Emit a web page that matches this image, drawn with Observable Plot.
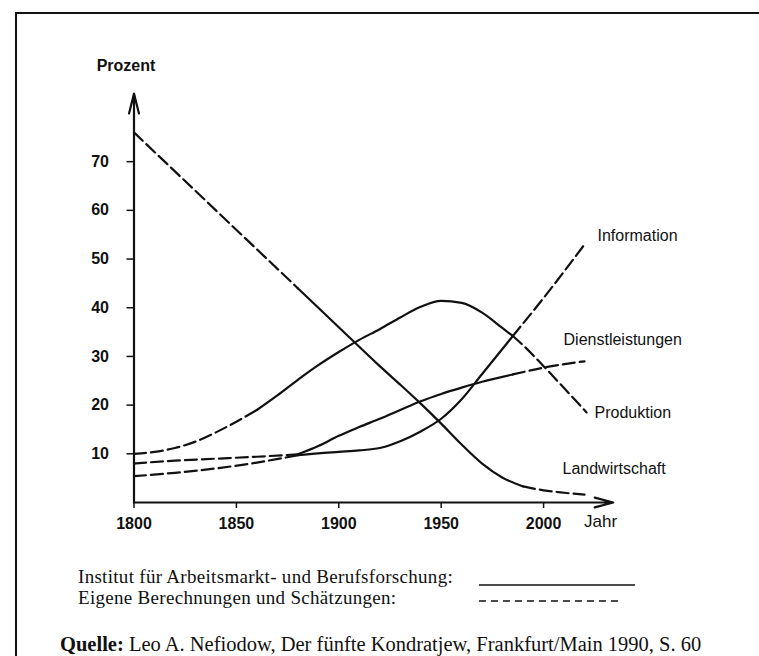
<!DOCTYPE html>
<html><head><meta charset="utf-8">
<script src="https://cdn.jsdelivr.net/npm/d3@7"></script>
<script src="https://cdn.jsdelivr.net/npm/@observablehq/plot@0.6"></script>
<style>
html,body{margin:0;padding:0;background:#fff;}
body{width:759px;height:656px;overflow:hidden;position:relative;font-family:"Liberation Sans",Arial,sans-serif;color:#111;}
#frame{position:absolute;left:15px;top:12px;width:760px;height:660px;border-top:2px solid #111;border-left:2px solid #111;}
#chart{position:absolute;left:0;top:0;}
.leg{position:absolute;font-family:"Liberation Serif","Times New Roman",serif;font-size:19px;letter-spacing:0.3px;line-height:21px;white-space:nowrap;color:#111;}
#legsvg{position:absolute;left:0;top:0;}
</style></head><body>
<div id="frame"></div>
<div id="chart"></div>
<div id="legend"></div>
<svg id="legsvg" width="759" height="656"></svg>
<div class="leg" id="cap" style="left:60px;top:633px;font-size:20.5px;letter-spacing:0;line-height:22px"></div>
<script>
// ---- data ----
const landYears = [1800,1820,1840,1860,1880,1900,1920,1930,1940,1950,1960,1970,1980,1990,2000,2010,2020];
const landVals  = [76,68,60,52,44,36,28,24.2,20.3,16.2,11.9,8.0,5.1,3.3,2.5,2.0,1.6];

const prodYears = [1800,1810,1820,1830,1840,1850,1860,1870,1880,1890,1900,1910,1920,1930,1940,1950,1960,1970,1980,1985,1990,2000,2010,2021];
const prodVals  = [10,10.4,11.2,12.5,14.4,16.6,19.0,22.0,25.2,28.2,30.9,33.4,35.6,38.0,40.2,41.4,41.0,39.0,35.8,34.2,32.3,28.0,23.5,18.5];

const dienYears = [1800,1820,1840,1860,1880,1890,1900,1910,1920,1930,1940,1950,1960,1970,1985,2000,2020];
const dienVals  = [8.0,8.6,9.0,9.4,9.9,11.6,13.7,15.5,17.2,19.0,20.8,22.3,23.6,24.8,26.3,27.7,29.0];

const infoYears = [1800,1820,1840,1860,1880,1890,1900,1910,1920,1930,1940,1950,1960,1970,1985,2000,2020];
const infoVals  = [5.4,6.1,7.0,8.2,9.7,10.1,10.4,10.7,11.2,12.6,14.6,17.2,21.2,26.4,34.2,42.0,53.0];

// years where the IAB series (solid) begins and ends for each sector
const seriesNames = ["Landwirtschaft","Produktion","Dienstleistungen","Information"];
const solidStart  = [1880,1860,1880,1880];
const solidEnd    = [1990,1985,1985,1985];

const xTicks = [1800,1850,1900,1950,2000];
const yTicks = [10,20,30,40,50,60,70];
const xDomain = [1800,2034];
const yDomain = [0,84];

const yLabel = "Prozent";
const xLabel = "Jahr";
const legendLabels = ["Institut für Arbeitsmarkt- und Berufsforschung:","Eigene Berechnungen und Schätzungen:"];
const captionLead = "Quelle:";
const captionText = " Leo A. Nefiodow, Der fünfte Kondratjew, Frankfurt/Main 1990, S. 60";

// ---- build ----
const allYears = [landYears,prodYears,dienYears,infoYears];
const allVals = [landVals,prodVals,dienVals,infoVals];
const series = seriesNames.map((name,i)=>({
  name,
  rows: allYears[i].map((y,j)=>({series:name, year:y, value:allVals[i][j]})),
  s0: solidStart[i], s1: solidEnd[i]
}));

const ink = "#111";
const lw = 2.2;
const dash = "12,5";
const curve = "monotone-x";
const sans = "'Liberation Sans', Arial, sans-serif";

const marks = [];
for (const s of series) {
  marks.push(Plot.line(s.rows.filter(d=>d.year<=s.s0), {x:"year", y:"value", curve, stroke:ink, strokeWidth:lw, strokeDasharray:dash}));
  marks.push(Plot.line(s.rows.filter(d=>d.year>=s.s0 && d.year<=s.s1), {x:"year", y:"value", curve, stroke:ink, strokeWidth:lw}));
  marks.push(Plot.line(s.rows.filter(d=>d.year>=s.s1), {x:"year", y:"value", curve, stroke:ink, strokeWidth:lw, strokeDasharray:dash}));
}

// series labels placed next to the line ends
const labelStyle = {
  "Landwirtschaft": {dx:-22, dy:-26},
  "Produktion": {dx:8, dy:0},
  "Dienstleistungen": {dx:-21, dy:-21},
  "Information": {dx:13, dy:-9}
};
for (const s of series) {
  const last = s.rows[s.rows.length-1];
  marks.push(Plot.text([last], {x:"year", y:"value", text:()=>s.name, textAnchor:"start", fontSize:16, fontFamily:sans, fill:ink, ...labelStyle[s.name]}));
}

// axes with arrows
marks.push(Plot.arrow([0], {x1:xDomain[0], y1:yDomain[0], x2:xDomain[1], y2:yDomain[0], stroke:ink, strokeWidth:lw, headLength:13, headAngle:30}));
marks.push(Plot.arrow([0], {x1:xDomain[0], y1:yDomain[0], x2:xDomain[0], y2:yDomain[1], stroke:ink, strokeWidth:lw, headLength:14, headAngle:28}));
marks.push(Plot.axisX({ticks:xTicks, tickSize:6, tickPadding:9, tickFormat:d=>String(d), fontSize:16, fontFamily:sans, fontWeight:"bold", label:null, stroke:ink, strokeWidth:1.5}));
marks.push(Plot.axisY({ticks:yTicks, tickSize:7, tickPadding:18, tickFormat:d=>String(d), fontSize:16, fontFamily:sans, fontWeight:"bold", label:null, stroke:ink, strokeWidth:1.5}));
marks.push(Plot.text([yLabel], {frameAnchor:"top-left", textAnchor:"middle", lineAnchor:"middle", text:d=>d, dx:-8, dy:-28, fontWeight:"bold", fontSize:16, fontFamily:sans, fill:ink}));
marks.push(Plot.text([xLabel], {frameAnchor:"bottom-right", textAnchor:"middle", lineAnchor:"middle", text:d=>d, dx:-12.7, dy:19, fontSize:17, fontFamily:sans, fill:ink}));

const chart = Plot.plot({
  width:759, height:545,
  marginTop:93, marginBottom:43, marginLeft:133.5, marginRight:146.3,
  x:{domain:xDomain},
  y:{domain:yDomain},
  style:{fontFamily:sans, fontSize:"15px", background:"transparent", color:ink},
  marks
});
document.getElementById("chart").appendChild(chart);

// legend (text + line samples)
const legendTops = [566,587];
const legDiv = document.getElementById("legend");
legendLabels.forEach((t,i)=>{
  const d = document.createElement("div");
  d.className = "leg";
  d.style.left = "78px";
  d.style.top = legendTops[i] + "px";
  d.textContent = t;
  legDiv.appendChild(d);
});
const lsvg = d3.select("#legsvg");
lsvg.append("line").attr("x1",479).attr("x2",635).attr("y1",585).attr("y2",585).attr("stroke",ink).attr("stroke-width",1.6);
lsvg.append("line").attr("x1",479).attr("x2",620).attr("y1",601).attr("y2",601).attr("stroke",ink).attr("stroke-width",1.6).attr("stroke-dasharray","7,5");

const cap = document.getElementById("cap");
const b = document.createElement("b"); b.textContent = captionLead;
cap.appendChild(b);
cap.appendChild(document.createTextNode(captionText));
</script>
</body></html>
